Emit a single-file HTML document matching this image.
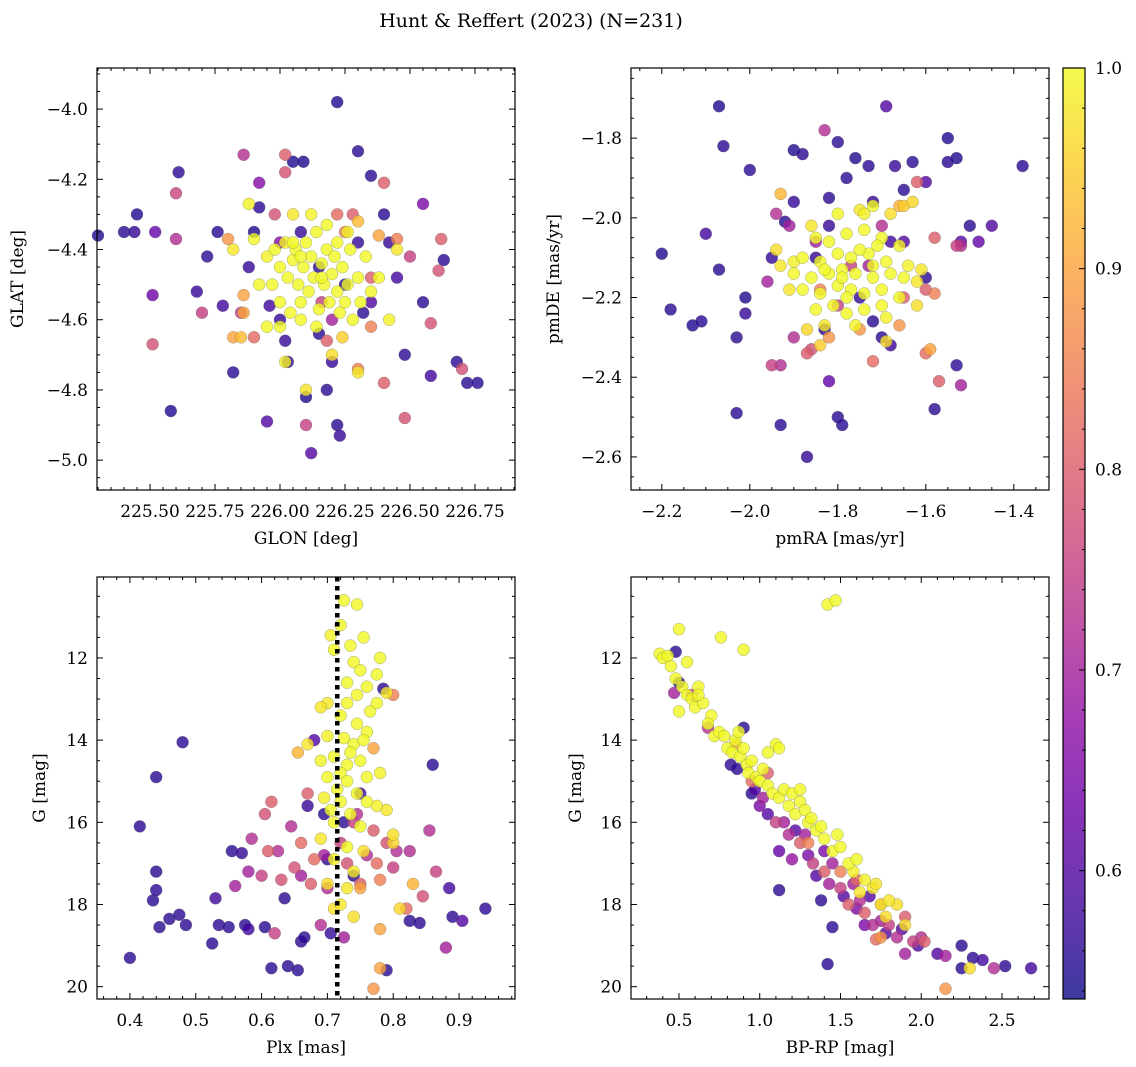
<!DOCTYPE html>
<html><head><meta charset="utf-8"><title>Hunt & Reffert (2023)</title>
<style>
html,body{margin:0;padding:0;background:#fff;}
svg{display:block;font-family:"DejaVu Serif","Liberation Serif",serif;}
</style></head>
<body>
<svg id="fig" width="1136" height="1067" viewBox="0 0 1136 1067" xmlns="http://www.w3.org/2000/svg">
<defs>
<linearGradient id="plasma" x1="0" y1="1" x2="0" y2="0">
<stop offset="0" stop-color="#0d0887"/><stop offset="0.1" stop-color="#41049d"/><stop offset="0.2" stop-color="#6a00a8"/><stop offset="0.3" stop-color="#8f0da4"/><stop offset="0.4" stop-color="#b12a90"/><stop offset="0.5" stop-color="#cc4778"/><stop offset="0.6" stop-color="#e16462"/><stop offset="0.7" stop-color="#f2844b"/><stop offset="0.8" stop-color="#fca636"/><stop offset="0.9" stop-color="#fcce25"/><stop offset="1" stop-color="#f0f921"/>
</linearGradient>
</defs>
<text x="531" y="27" font-size="19" text-anchor="middle">Hunt &amp; Reffert (2023) (N=231)</text>
</svg>
<script>
// ---- data (each triple: x value, y value, membership probability) ----
const skyPoints = [
[225.30,-4.36,.55],[225.40,-4.35,.56],[225.45,-4.30,.55],[225.44,-4.35,.57],[225.52,-4.35,.62],[225.61,-4.18,.56],[225.58,-4.86,.55],[225.51,-4.53,.63],[225.68,-4.52,.57],[225.72,-4.42,.56],[225.76,-4.35,.56],[225.82,-4.75,.56],[225.90,-4.35,.55],[225.78,-4.56,.58],[225.95,-4.89,.60],[226.05,-4.15,.55],[226.09,-4.15,.55],[226.12,-4.98,.60],[226.22,-3.98,.55],[226.30,-4.12,.56],[226.35,-4.19,.56],[226.40,-4.30,.56],[226.55,-4.55,.56],[226.63,-4.43,.56],[226.68,-4.72,.56],[226.72,-4.78,.56],[226.76,-4.78,.56],[226.58,-4.76,.58],[226.48,-4.70,.56],[226.22,-4.90,.56],[226.23,-4.93,.57],[226.18,-4.80,.56],[226.15,-4.64,.56],[226.02,-4.66,.57],[226.00,-4.60,.57],[225.96,-4.56,.58],[226.08,-4.35,.57],[226.15,-4.45,.56],[226.25,-4.50,.56],[226.30,-4.38,.57],[226.42,-4.38,.57],[226.20,-4.72,.57],[225.88,-4.45,.57],[225.92,-4.28,.56],[226.03,-4.72,.56],[226.10,-4.82,.55],[226.32,-4.58,.56],[226.45,-4.48,.58],[226.55,-4.27,.65],[226.35,-4.55,.6],
[225.86,-4.13,.72],[226.02,-4.13,.80],[226.02,-4.18,.78],[226.40,-4.21,.80],[225.60,-4.24,.76],[225.70,-4.58,.75],[225.51,-4.67,.78],[225.60,-4.37,.72],[225.92,-4.21,.66],[226.20,-4.60,.70],[226.18,-4.66,.8],[226.30,-4.74,.85],[226.40,-4.78,.80],[226.48,-4.88,.78],[226.58,-4.61,.78],[226.62,-4.37,.80],[226.61,-4.46,.78],[226.70,-4.74,.78],[226.10,-4.90,.75],[226.28,-4.30,.80],[226.25,-4.35,.85],[226.35,-4.62,.85],[225.90,-4.65,.82],[225.85,-4.58,.75],[225.80,-4.37,.88],[225.86,-4.53,.9],[225.86,-4.58,.9],[226.38,-4.36,.9],[226.45,-4.37,.85],[226.50,-4.42,.75],[226.35,-4.48,.8],[225.98,-4.30,.78],[226.00,-4.38,.66],[226.22,-4.30,.82],[226.16,-4.55,.75],
[225.85,-4.65,.93],[225.82,-4.40,.98],[225.88,-4.27,.99],[225.90,-4.37,1],[225.95,-4.42,.99],[225.95,-4.62,1],[225.97,-4.50,1],[225.98,-4.40,1],[226.00,-4.45,1],[226.00,-4.55,1],[226.02,-4.38,.99],[226.03,-4.48,1],[226.04,-4.58,1],[226.05,-4.43,1],[226.05,-4.30,.98],[226.06,-4.40,1],[226.07,-4.50,1],[226.08,-4.60,1],[226.09,-4.45,1],[226.10,-4.38,1],[226.11,-4.52,1],[226.12,-4.42,1],[226.13,-4.48,1],[226.14,-4.35,1],[226.15,-4.57,1],[226.16,-4.44,1],[226.17,-4.50,1],[226.18,-4.40,1],[226.19,-4.55,1],[226.20,-4.47,1],[226.21,-4.42,1],[226.22,-4.52,1],[226.23,-4.58,1],[226.24,-4.45,1],[226.25,-4.55,1],[226.26,-4.50,1],[226.27,-4.40,1],[226.28,-4.60,1],[226.30,-4.48,1],[226.31,-4.55,1],[226.33,-4.42,1],[226.35,-4.52,1],[226.38,-4.48,1],[226.45,-4.40,.98],[226.42,-4.60,.99],[226.30,-4.75,.98],[226.20,-4.70,.97],[226.10,-4.80,.98],[226.02,-4.72,.99],[226.05,-4.38,1],[226.12,-4.30,.99],[226.18,-4.33,1],[226.00,-4.62,1],[225.92,-4.50,1],[226.08,-4.55,1],[226.14,-4.62,1],[226.22,-4.38,1],[226.26,-4.35,.99],[226.08,-4.42,1],[226.16,-4.48,1],[226.24,-4.65,.95],[225.82,-4.65,.9],[226.30,-4.32,.93]
];
const pmPoints = [
[-2.07,-1.72,.55],[-2.06,-1.82,.56],[-1.88,-1.84,.56],[-1.90,-1.83,.55],[-1.80,-1.81,.56],[-1.76,-1.85,.55],[-1.69,-1.72,.6],[-1.73,-1.87,.56],[-1.67,-1.87,.57],[-1.63,-1.86,.56],[-1.55,-1.80,.55],[-1.55,-1.86,.56],[-1.53,-1.85,.55],[-1.38,-1.87,.56],[-2.00,-1.88,.56],[-2.20,-2.09,.55],[-2.18,-2.23,.56],[-2.13,-2.27,.55],[-2.11,-2.26,.56],[-2.10,-2.04,.58],[-2.07,-2.13,.56],[-2.03,-2.30,.56],[-2.01,-2.20,.55],[-2.01,-2.24,.57],[-2.03,-2.49,.56],[-1.93,-2.52,.56],[-1.87,-2.60,.57],[-1.80,-2.50,.56],[-1.79,-2.52,.56],[-1.82,-2.41,.62],[-1.58,-2.48,.56],[-1.53,-2.37,.56],[-1.50,-2.02,.56],[-1.45,-2.02,.6],[-1.48,-2.06,.62],[-1.52,-2.06,.6],[-1.60,-1.91,.6],[-1.65,-1.93,.56],[-1.72,-1.96,.57],[-1.78,-1.90,.56],[-1.82,-1.95,.56],[-1.90,-1.96,.57],[-1.92,-2.01,.56],[-1.83,-2.28,.56],[-1.75,-2.20,.57],[-1.70,-2.30,.56],[-1.68,-2.32,.58],[-1.72,-2.26,.56],[-1.85,-2.10,.57],[-1.95,-2.10,.57],[-1.60,-2.15,.56],[-1.65,-2.06,.6],[-1.82,-2.02,.57],[-1.68,-2.06,.58],
[-1.83,-1.78,.72],[-1.94,-1.99,.72],[-1.91,-2.02,.7],[-1.95,-2.37,.75],[-1.93,-2.37,.72],[-1.90,-2.30,.72],[-1.87,-2.34,.8],[-1.86,-2.33,.78],[-1.52,-2.42,.7],[-1.57,-2.41,.8],[-1.60,-2.34,.82],[-1.62,-1.91,.8],[-1.58,-2.05,.8],[-1.53,-2.07,.75],[-1.52,-2.07,.72],[-1.60,-2.18,.8],[-1.58,-2.19,.85],[-1.72,-2.36,.82],[-1.75,-2.28,.88],[-1.80,-2.22,.75],[-1.84,-2.18,.85],[-1.77,-2.12,.75],[-1.65,-2.20,.8],[-1.70,-2.02,.72],[-1.85,-2.06,.7],[-1.96,-2.16,.7],[-1.66,-2.27,.88],[-1.73,-2.12,.7],[-1.82,-2.30,.88],[-1.59,-2.33,.9],[-1.93,-1.94,.92],[-1.66,-1.97,.92],
[-1.80,-1.99,1],[-1.75,-1.98,.98],[-1.72,-1.97,1],[-1.68,-1.99,.97],[-1.65,-1.97,.95],[-1.85,-2.05,1],[-1.82,-2.06,1],[-1.78,-2.04,1],[-1.74,-2.03,1],[-1.70,-2.05,1],[-1.66,-2.07,.99],[-1.88,-2.10,1],[-1.84,-2.11,1],[-1.80,-2.09,1],[-1.77,-2.10,1],[-1.73,-2.09,1],[-1.69,-2.11,1],[-1.64,-2.12,.99],[-1.90,-2.14,1],[-1.86,-2.15,1],[-1.82,-2.14,1],[-1.79,-2.13,1],[-1.76,-2.14,1],[-1.72,-2.15,1],[-1.68,-2.14,1],[-1.62,-2.16,.98],[-1.88,-2.18,1],[-1.84,-2.19,1],[-1.80,-2.17,1],[-1.77,-2.18,1],[-1.74,-2.19,1],[-1.70,-2.18,1],[-1.66,-2.20,1],[-1.85,-2.23,1],[-1.81,-2.22,1],[-1.78,-2.24,1],[-1.74,-2.23,1],[-1.70,-2.22,1],[-1.83,-2.27,.98],[-1.76,-2.27,.99],[-1.69,-2.31,.97],[-1.91,-2.18,.98],[-1.94,-2.08,.97],[-1.93,-2.12,.98],[-1.87,-2.28,.96],[-1.84,-2.32,.95],[-1.62,-2.22,.97],[-1.61,-2.13,.98],[-1.75,-2.08,1],[-1.78,-2.20,1],[-1.72,-2.12,1],[-1.86,-2.02,.98],[-1.79,-2.15,1],[-1.65,-2.15,1],[-1.63,-1.96,.96],[-1.74,-1.99,.99],[-1.83,-2.13,1],[-1.69,-2.25,.99],[-1.71,-2.07,1],[-1.90,-2.11,.99]
];
const plxPoints = [
[0.40,19.3,.56],[0.415,16.1,.56],[0.435,17.9,.56],[0.44,17.65,.56],[0.44,17.2,.56],[0.44,14.9,.56],[0.445,18.55,.56],[0.46,18.35,.56],[0.475,18.25,.56],[0.48,14.05,.56],[0.485,18.5,.56],[0.525,18.95,.56],[0.53,17.85,.58],[0.535,18.5,.56],[0.55,18.55,.56],[0.555,16.7,.56],[0.57,16.75,.57],[0.575,18.5,.56],[0.58,18.6,.58],[0.605,18.55,.56],[0.615,19.55,.56],[0.635,17.85,.56],[0.64,19.5,.56],[0.655,19.6,.56],[0.66,18.9,.56],[0.665,18.8,.56],[0.67,15.6,.57],[0.695,15.8,.56],[0.7,16.9,.56],[0.74,17.3,.56],[0.79,19.6,.56],[0.785,12.75,.56],[0.825,18.4,.56],[0.84,18.45,.56],[0.86,14.6,.56],[0.89,18.3,.56],[0.905,18.4,.6],[0.94,18.1,.56],[0.885,17.6,.58],[0.725,16.0,.56],[0.705,18.7,.57],[0.68,14.0,.6],[0.75,15.3,.58],
[0.56,17.55,.7],[0.58,17.2,.7],[0.585,16.4,.72],[0.6,17.3,.75],[0.605,15.8,.78],[0.61,16.7,.8],[0.615,15.5,.8],[0.62,18.7,.75],[0.625,16.7,.72],[0.63,17.4,.78],[0.645,16.1,.72],[0.65,17.1,.78],[0.66,16.5,.82],[0.66,17.3,.7],[0.67,15.3,.8],[0.675,17.5,.8],[0.68,16.9,.82],[0.69,18.5,.72],[0.695,16.8,.7],[0.7,17.6,.72],[0.72,16.5,.75],[0.725,18.8,.7],[0.73,17.0,.78],[0.74,16.0,.75],[0.745,15.8,.72],[0.75,17.5,.8],[0.76,16.8,.72],[0.77,16.2,.8],[0.775,17.0,.82],[0.78,17.4,.85],[0.79,16.5,.78],[0.8,17.1,.75],[0.805,16.7,.72],[0.82,18.1,.82],[0.825,16.7,.72],[0.845,17.8,.78],[0.855,16.2,.72],[0.865,17.2,.75],[0.88,19.05,.7],[0.8,12.9,.85],[0.77,14.2,.9],[0.655,14.3,.92],[0.78,18.6,.9],[0.77,20.05,.88],[0.83,17.5,.92],[0.75,17.6,.9],[0.78,19.55,.9],
[0.725,10.6,1],[0.745,10.7,1],[0.72,11.2,1],[0.705,11.45,.99],[0.71,11.8,1],[0.735,11.7,1],[0.755,11.5,1],[0.74,12.1,1],[0.75,12.3,1],[0.76,12.7,1],[0.73,12.6,1],[0.775,12.4,1],[0.78,12.0,1],[0.79,12.85,.98],[0.745,12.9,1],[0.73,13.1,1],[0.7,13.1,.98],[0.765,13.3,1],[0.775,13.1,1],[0.72,13.4,1],[0.745,13.6,1],[0.76,13.8,1],[0.7,13.9,.99],[0.725,13.95,1],[0.74,14.1,1],[0.735,14.3,1],[0.755,14.0,1],[0.71,14.4,1],[0.69,14.5,.99],[0.73,14.6,1],[0.75,14.5,1],[0.72,14.8,1],[0.7,14.9,1],[0.76,14.9,1],[0.73,15.0,1],[0.715,15.2,1],[0.745,15.3,1],[0.695,15.4,.99],[0.72,15.5,1],[0.76,15.5,1],[0.705,15.7,1],[0.735,15.8,1],[0.71,16.0,1],[0.75,16.1,1],[0.69,16.4,.98],[0.73,16.6,1],[0.71,16.9,.99],[0.74,17.2,.98],[0.7,17.5,.97],[0.73,17.6,.98],[0.72,18.0,.98],[0.74,18.3,.97],[0.71,18.1,.97],[0.78,14.8,.99],[0.775,15.6,.99],[0.69,13.2,.98],[0.67,14.1,.98],[0.755,16.7,.97],[0.8,16.5,.96],[0.8,16.3,.97],[0.79,15.7,.98],[0.81,18.1,.96]
];
const cmdPoints = [
[0.48,11.85,.56],[0.5,12.6,.56],[0.47,12.85,.7],[0.58,12.9,.75],[0.68,13.7,.72],[0.82,14.6,.56],[0.86,14.7,.56],[0.9,13.7,.56],[0.95,15.3,.56],[0.97,15.2,.6],[1.0,15.6,.65],[1.02,15.4,.7],[1.05,15.8,.6],[1.1,16.0,.75],[1.12,17.65,.56],[1.12,16.7,.62],[1.15,16.0,.7],[1.18,16.3,.72],[1.22,16.2,.6],[1.25,16.5,.8],[1.28,16.3,.7],[1.3,16.8,.65],[1.33,17.0,.75],[1.35,17.3,.6],[1.38,17.9,.56],[1.4,17.2,.8],[1.42,19.45,.56],[1.43,17.5,.7],[1.45,18.55,.56],[1.45,17.0,.7],[1.5,17.6,.75],[1.52,17.8,.6],[1.55,18.0,.8],[1.58,17.5,.7],[1.6,18.1,.65],[1.62,17.9,.72],[1.65,18.2,.8],[1.68,17.8,.6],[1.7,18.5,.72],[1.72,18.85,.82],[1.75,18.4,.7],[1.78,18.7,.6],[1.8,18.5,.75],[1.85,18.8,.72],[1.88,18.6,.6],[1.9,19.2,.7],[1.95,18.9,.75],[1.98,19.0,.6],[2.0,18.8,.72],[2.02,18.9,.8],[2.1,19.2,.6],[2.15,19.25,.7],[2.15,20.05,.88],[2.25,19.0,.56],[2.25,19.55,.56],[2.32,19.3,.56],[2.38,19.35,.58],[2.45,19.55,.72],[2.52,19.5,.56],[2.68,19.55,.58],[1.2,16.9,.68],[1.4,16.7,.65],[1.3,16.5,.85],[1.5,17.2,.85],[1.6,17.4,.82],[1.75,18.0,.85],[1.75,18.8,.88],[1.05,14.8,.8],[0.95,15.0,.82],[0.85,14.1,.9],[1.65,18.5,.65],[1.9,18.3,.8],
[0.38,11.9,1],[0.4,12.0,1],[0.43,11.95,1],[0.45,12.2,1],[0.5,11.3,1],[0.48,12.5,1],[0.52,12.7,1],[0.55,12.1,1],[0.55,12.9,1],[0.58,13.0,1],[0.5,13.3,1],[0.6,13.2,1],[0.62,12.7,1],[0.65,13.1,1],[0.7,13.4,1],[0.72,13.9,1],[0.75,13.8,1],[0.76,11.5,1],[0.78,13.9,1],[0.8,14.2,1],[0.83,14.3,1],[0.85,14.0,1],[0.88,14.4,1],[0.9,11.8,1],[0.9,14.2,1],[0.92,14.6,1],[0.93,14.8,1],[0.95,14.5,1],[0.98,14.9,1],[1.0,15.0,1],[1.02,14.7,1],[1.05,15.1,1],[1.08,15.3,1],[1.1,14.1,1],[1.12,14.2,1],[1.12,15.4,1],[1.15,15.2,1],[1.18,15.6,1],[1.2,15.3,1],[1.22,15.8,1],[1.25,15.5,1],[1.28,15.7,1],[1.3,16.0,1],[1.32,15.9,1],[1.35,16.2,1],[1.38,16.1,1],[1.4,16.4,1],[1.42,10.7,1],[1.47,10.6,1],[1.45,16.7,1],[1.5,16.6,1],[1.55,17.0,1],[1.58,17.2,.99],[1.6,16.9,1],[1.65,17.4,.99],[1.7,17.6,.98],[1.72,17.5,.98],[1.75,18.0,.98],[1.78,18.3,.97],[1.8,17.9,.98],[1.85,18.0,.97],[1.9,18.5,.97],[2.3,19.55,.97],[0.68,13.6,1],[1.05,14.3,1],[1.25,15.2,1],[1.48,16.3,1],[1.62,17.7,.98],[0.87,13.8,1],[0.62,12.9,1]
];
const plxCenter = 0.715;
const cbTicks = [0.6, 0.7, 0.8, 0.9, 1.0];
const cbMin = 0.536, cbMax = 1.0;

// ---- plasma colormap ----
const plasmaStops = ["#0d0887","#41049d","#6a00a8","#8f0da4","#b12a90","#cc4778","#e16462","#f2844b","#fca636","#fcce25","#f0f921"];
function hex(h){return [parseInt(h.slice(1,3),16),parseInt(h.slice(3,5),16),parseInt(h.slice(5,7),16)];}
function plasma(v){
  let t=(v-cbMin)/(cbMax-cbMin); t=Math.max(0,Math.min(1,t));
  const s=t*10, i=Math.min(9,Math.floor(s)), f=s-i;
  const a=hex(plasmaStops[i]), b=hex(plasmaStops[i+1]);
  return `rgb(${a.map((c,k)=>Math.round(c+(b[k]-c)*f)).join(',')})`;
}
const NS="http://www.w3.org/2000/svg";
const svg=document.getElementById('fig');
function el(tag,attrs,parent){const e=document.createElementNS(NS,tag);for(const k in attrs)e.setAttribute(k,attrs[k]);(parent||svg).appendChild(e);return e;}
function fmtMinus(s){return s.replace('-','\u2212');}
const FS=17;

function panel(cfg){
  const g=el('g',{});
  
  
  const {L,T,R,B}=cfg;
  const sx=v=>L+(v-cfg.x0)/(cfg.x1-cfg.x0)*(R-L);
  const sy=v=>T+(v-cfg.y0)/(cfg.y1-cfg.y0)*(B-T);
  const pts=cfg.data.slice().sort((a,b)=>a[2]-b[2]);
  const mg=el('g',{},g);
  
  
  for(const p of pts){
    const c=el('circle',{cx:sx(p[0]).toFixed(1),cy:sy(p[1]).toFixed(1),r:6,fill:plasma(p[2]),'fill-opacity':0.8,stroke:'#666','stroke-width':0.4,'stroke-opacity':0.7},mg);
    
    
  }
  if(cfg.vline!==undefined){
    const ln=el('line',{x1:sx(cfg.vline),x2:sx(cfg.vline),y1:T,y2:B,stroke:'#000','stroke-width':4.5,'stroke-dasharray':'4.5,4.5'},g);
    
    
  }
  el('rect',{x:L,y:T,width:R-L,height:B-T,fill:'none',stroke:'#000','stroke-width':1.2},g);
  const tk=el('g',{stroke:'#000','stroke-width':1},g);
  const eps=1e-9;
  const xlo=Math.min(cfg.x0,cfg.x1), xhi=Math.max(cfg.x0,cfg.x1), ylo=Math.min(cfg.y0,cfg.y1), yhi=Math.max(cfg.y0,cfg.y1);
  for(let v=Math.ceil(xlo/cfg.xmin)*cfg.xmin; v<=xhi+eps; v+=cfg.xmin){
    const maj=Math.abs(v/cfg.xmaj-Math.round(v/cfg.xmaj))<1e-6, len=maj?6:3, x=sx(v);
    el('line',{x1:x,x2:x,y1:B,y2:B-len},tk); el('line',{x1:x,x2:x,y1:T,y2:T+len},tk);
  }
  for(let v=Math.ceil(ylo/cfg.ymin)*cfg.ymin; v<=yhi+eps; v+=cfg.ymin){
    const maj=Math.abs(v/cfg.ymaj-Math.round(v/cfg.ymaj))<1e-6, len=maj?6:3, y=sy(v);
    el('line',{y1:y,y2:y,x1:L,x2:L+len},tk); el('line',{y1:y,y2:y,x1:R,x2:R-len},tk);
  }
  for(const v of cfg.xticks){
    const t=el('text',{x:sx(v),y:B+27,'font-size':FS,'text-anchor':'middle'},g);
    t.textContent=fmtMinus(v.toFixed(cfg.xdec));
    
    
  }
  for(const v of cfg.yticks){
    const t=el('text',{x:L-9,y:sy(v)+6,'font-size':FS,'text-anchor':'end'},g);
    t.textContent=fmtMinus(v.toFixed(cfg.ydec));
    
    
  }
  const xl=el('text',{x:(L+R)/2,y:B+54,'font-size':FS,'text-anchor':'middle'},g);
  xl.textContent=cfg.xlabel;
  
  
  const yl=el('text',{x:0,y:0,'font-size':FS,'text-anchor':'middle',transform:`translate(${cfg.ylx},${(T+B)/2}) rotate(-90)`},g);
  yl.textContent=cfg.ylabel;
  
  
}

panel({name:'sky-panel',data:skyPoints,L:97,T:68,R:515,B:490,x0:225.296,x1:226.904,y0:-3.883,y1:-5.085,
  xmaj:0.25,xmin:0.05,ymaj:0.2,ymin:0.05,xticks:[225.5,225.75,226.0,226.25,226.5,226.75],xdec:2,yticks:[-4.0,-4.2,-4.4,-4.6,-4.8,-5.0],ydec:1,
  xlabel:'GLON [deg]',ylabel:'GLAT [deg]',ylx:23});
panel({name:'proper-motion-panel',data:pmPoints,L:631,T:68,R:1049,B:490,x0:-2.270,x1:-1.320,y0:-1.624,y1:-2.683,
  xmaj:0.2,xmin:0.05,ymaj:0.2,ymin:0.05,xticks:[-2.2,-2.0,-1.8,-1.6,-1.4],xdec:1,yticks:[-1.8,-2.0,-2.2,-2.4,-2.6],ydec:1,
  xlabel:'pmRA [mas/yr]',ylabel:'pmDE [mas/yr]',ylx:559});
panel({name:'parallax-panel',data:plxPoints,L:97,T:577,R:515,B:999,x0:0.350,x1:0.985,y0:10.03,y1:20.30,vline:plxCenter,
  xmaj:0.1,xmin:0.02,ymaj:2,ymin:0.5,xticks:[0.4,0.5,0.6,0.7,0.8,0.9],xdec:1,yticks:[12,14,16,18,20],ydec:0,
  xlabel:'Plx [mas]',ylabel:'G [mag]',ylx:45});
panel({name:'cmd-panel',data:cmdPoints,L:631,T:577,R:1049,B:999,x0:0.203,x1:2.791,y0:10.03,y1:20.30,
  xmaj:0.5,xmin:0.1,ymaj:2,ymin:0.5,xticks:[0.5,1.0,1.5,2.0,2.5],xdec:1,yticks:[12,14,16,18,20],ydec:0,
  xlabel:'BP-RP [mag]',ylabel:'G [mag]',ylx:581});

// ---- colorbar ----
(function(){
  const L=1063,R=1085,T=68,B=999;
  const g=el('g',{});
  
  
  el('rect',{x:L,y:T,width:R-L,height:B-T,fill:'url(#plasma)','fill-opacity':0.8},g);
  el('rect',{x:L,y:T,width:R-L,height:B-T,fill:'none',stroke:'#000','stroke-width':1.2},g);
  const sy=v=>B-(v-cbMin)/(cbMax-cbMin)*(B-T);
  for(let v=0.54; v<=1.0001; v+=0.02){
    const maj=Math.abs(v*10-Math.round(v*10))<1e-6, y=sy(v);
    el('line',{x1:R,x2:R-(maj?6:3),y1:y,y2:y,stroke:'#000','stroke-width':1},g);
  }
  for(const v of cbTicks){
    const t=el('text',{x:R+10,y:sy(v)+6,'font-size':FS},g);
    t.textContent=v.toFixed(1);
    
    
  }
})();
</script>
</body></html>
